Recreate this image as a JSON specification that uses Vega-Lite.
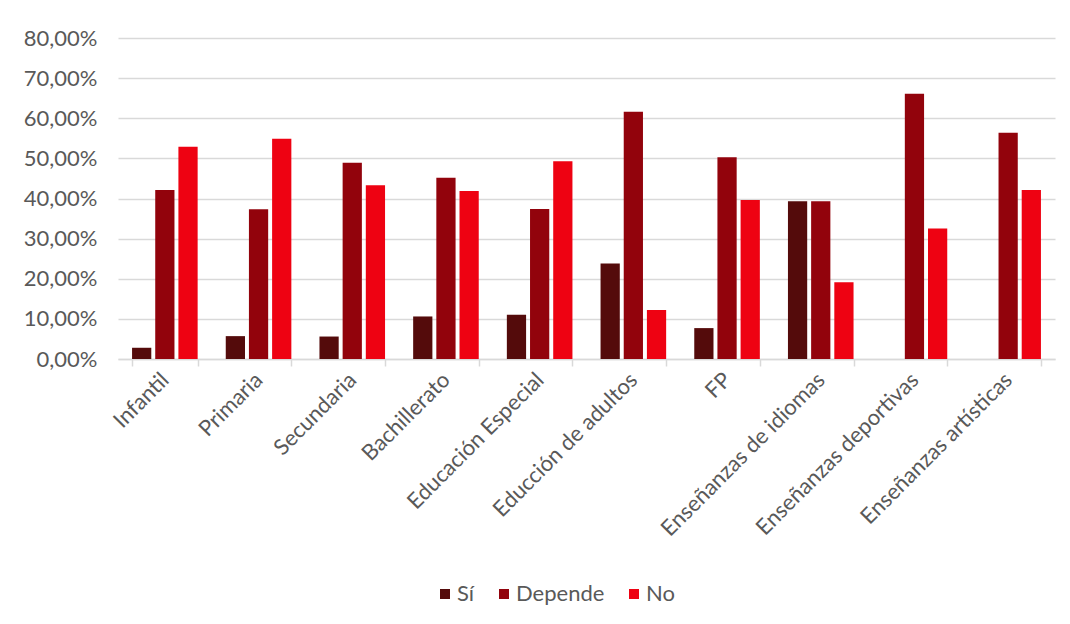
{
  "$schema": "https://vega.github.io/schema/vega-lite/v6.json",
  "width": 937,
  "height": 321,
  "autosize": {"type": "none"},
  "padding": {"left": 118, "top": 38, "right": 15, "bottom": 265},
  "background": "white",
  "config": {
    "locale": {"number": {"decimal": ",", "thousands": ".", "grouping": [3], "currency": ["", " €"]}},
    "view": {"stroke": null},
    "font": "Lato"
  },
  "data": {
    "values": [
      {"nivel": "Infantil", "respuesta": "Sí", "valor": 0.028},
      {"nivel": "Infantil", "respuesta": "Depende", "valor": 0.421},
      {"nivel": "Infantil", "respuesta": "No", "valor": 0.529},
      {"nivel": "Primaria", "respuesta": "Sí", "valor": 0.057},
      {"nivel": "Primaria", "respuesta": "Depende", "valor": 0.373},
      {"nivel": "Primaria", "respuesta": "No", "valor": 0.549},
      {"nivel": "Secundaria", "respuesta": "Sí", "valor": 0.056},
      {"nivel": "Secundaria", "respuesta": "Depende", "valor": 0.489},
      {"nivel": "Secundaria", "respuesta": "No", "valor": 0.433},
      {"nivel": "Bachillerato", "respuesta": "Sí", "valor": 0.106},
      {"nivel": "Bachillerato", "respuesta": "Depende", "valor": 0.452},
      {"nivel": "Bachillerato", "respuesta": "No", "valor": 0.419},
      {"nivel": "Educación Especial", "respuesta": "Sí", "valor": 0.110},
      {"nivel": "Educación Especial", "respuesta": "Depende", "valor": 0.374},
      {"nivel": "Educación Especial", "respuesta": "No", "valor": 0.493},
      {"nivel": "Educción de adultos", "respuesta": "Sí", "valor": 0.238},
      {"nivel": "Educción de adultos", "respuesta": "Depende", "valor": 0.616},
      {"nivel": "Educción de adultos", "respuesta": "No", "valor": 0.122},
      {"nivel": "FP", "respuesta": "Sí", "valor": 0.077},
      {"nivel": "FP", "respuesta": "Depende", "valor": 0.503},
      {"nivel": "FP", "respuesta": "No", "valor": 0.396},
      {"nivel": "Enseñanzas de idiomas", "respuesta": "Sí", "valor": 0.393},
      {"nivel": "Enseñanzas de idiomas", "respuesta": "Depende", "valor": 0.393},
      {"nivel": "Enseñanzas de idiomas", "respuesta": "No", "valor": 0.191},
      {"nivel": "Enseñanzas deportivas", "respuesta": "Sí", "valor": 0},
      {"nivel": "Enseñanzas deportivas", "respuesta": "Depende", "valor": 0.661},
      {"nivel": "Enseñanzas deportivas", "respuesta": "No", "valor": 0.325},
      {"nivel": "Enseñanzas artísticas", "respuesta": "Sí", "valor": 0},
      {"nivel": "Enseñanzas artísticas", "respuesta": "Depende", "valor": 0.564},
      {"nivel": "Enseñanzas artísticas", "respuesta": "No", "valor": 0.421}
    ]
  },
  "mark": {"type": "bar"},
  "encoding": {
    "x": {
      "field": "nivel",
      "type": "nominal",
      "sort": null,
      "scale": {"paddingInner": 0.3, "paddingOuter": 0.15},
      "axis": {
        "title": null,
        "labelAngle": -45,
        "labelAlign": "right",
        "labelBaseline": "middle",
        "labelFontSize": 22,
        "labelColor": "#595959",
        "labelFont": "Lato",
        "labelPadding": 10,
        "labelOverlap": false,
        "labelLimit": 0,
        "domainColor": "#D9D9D9",
        "domainWidth": 1.5,
        "tickColor": "#D9D9D9",
        "tickWidth": 1.5,
        "tickSize": 7,
        "tickBand": "extent",
        "grid": false
      }
    },
    "xOffset": {
      "field": "respuesta",
      "type": "nominal",
      "sort": ["Sí", "Depende", "No"],
      "scale": {"paddingInner": 0.17, "paddingOuter": 0}
    },
    "y": {
      "field": "valor",
      "type": "quantitative",
      "scale": {"domain": [0, 0.8], "nice": false},
      "axis": {
        "title": null,
        "format": ".2%",
        "values": [0, 0.1, 0.2, 0.3, 0.4, 0.5, 0.6, 0.7, 0.8],
        "labelOverlap": false,
        "domain": false,
        "ticks": false,
        "labelFontSize": 22,
        "labelColor": "#595959",
        "labelFont": "Lato",
        "labelPadding": 21,
        "gridColor": "#D9D9D9",
        "gridWidth": 1.5
      }
    },
    "color": {
      "field": "respuesta",
      "type": "nominal",
      "sort": ["Sí", "Depende", "No"],
      "scale": {"domain": ["Sí", "Depende", "No"], "range": ["#540B0B", "#92030C", "#EE0212"]},
      "legend": {
        "title": null,
        "orient": "none",
        "direction": "horizontal",
        "legendX": 316,
        "legendY": 545,
        "symbolType": "square",
        "symbolSize": 100,
        "symbolStrokeWidth": 0,
        "labelFontSize": 22,
        "labelColor": "#595959",
        "labelFont": "Lato",
        "columnPadding": 18,
        "labelOffset": 1
      }
    }
  }
}
